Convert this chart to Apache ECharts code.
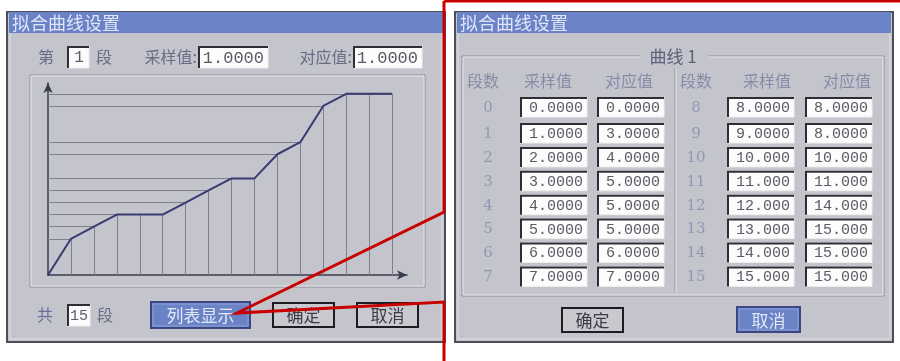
<!DOCTYPE html>
<html><head><meta charset="utf-8">
<script src="https://cdn.jsdelivr.net/npm/echarts@6/dist/echarts.min.js"></script>
<style>html,body{margin:0;padding:0;background:#fff;}#c{width:900px;height:361px;}</style>
</head><body><div id="c"></div>
<script>
// ---- data ----
const segmentNumbers = [0,1,2,3,4,5,6,7,8,9,10,11,12,13,14,15];
const sampleValues   = [0,1,2,3,4,5,6,7,8,9,10,11,12,13,14,15];
const responseValues = [0,3,4,5,5,5,6,7,8,8,10,11,14,15,15,15];
const dialogTitle = '拟合曲线设置';
const curveName = '曲线 1';
const tableHeaders = ['段数','采样值','对应值'];
const currentSegment = 1;
const currentSample = 1.0;
const currentResponse = 1.0;
const totalSegments = 15;

function fmt(v){ return Number(v).toPrecision(5); }

// ---- UI helpers ----
const G = [];
const CJK = '"Noto Sans CJK SC"';
function rect(x,y,w,h,fill,stroke,lw,z){ G.push({type:'rect',silent:true,z:z||1,shape:{x:x,y:y,width:w,height:h},style:{fill:fill||'none',stroke:stroke||'none',lineWidth:lw||0}}); }
function pl(pts,stroke,lw,z){ G.push({type:'polyline',silent:true,z:z||2,shape:{points:pts},style:{stroke:stroke,lineWidth:lw,fill:'none'}}); }
function txt(s,x,y,o){ G.push({type:'text',silent:true,z:4,x:x,y:y,style:Object.assign({text:s,fill:'#686c84',font:'16px '+CJK,align:'center',verticalAlign:'middle'},o||{})}); }
function field(x,y,w,h,s,o){
  rect(x,y,w,h,'#fcfcfc');
  pl([[x+w,y+h],[x+w,y],[x+w,y]],'#eeeef2',1);
  pl([[x,y+h],[x+w,y+h]],'#eeeef2',1);
  pl([[x+1,y+h],[x+1,y+1],[x+w,y+1]],'#2e2e34',2);
  if(s!==undefined){ txt(s,x+w-4,y+h/2+1,Object.assign({align:'right',fill:'#5a5a64',font:'15px "Liberation Mono"'},o||{})); }
}
function button(x,y,w,h,label,blue){
  rect(x,y,w,h,blue?'#6a82c6':'#c9cad0',blue?'#3c4680':'#1c1c22',2);
  if(blue) rect(x+2,y+2,w-4,h-4,'none','#8ea0d8',1);
  txt(label,x+w/2,y+h/2+1,{fill:blue?'#e2e8f8':'#3c3c46',font:'17px '+CJK});
}
function panel(x,y,w,h){
  rect(x,y,w,h,'#c4c5cc','#4e4e56',2);
  rect(x+3,y+3,w-6,h-6,'none','#e0e0e6',1);
  rect(x+2,y,w-4,21,'#6a82c6');
  txt(dialogTitle,x+5,y+11,{align:'left',fill:'#dfe5f6',font:'18px '+CJK});
}
function etched(x,y,w,h){
  rect(x,y,w,h,'none','#8c8c96',1);
  rect(x+1,y+1,w-2,h-2,'none','#e6e6ec',1);
}

// ---- left dialog ----
panel(7,12,438,330);
txt('第',46,57);
field(67,46,22,22,String(currentSegment),{align:'center',font:'16px "Liberation Mono"'});
G[G.length-1].x = 79;
txt('段',104,57);
txt('采样值:',197,57,{align:'right'});
field(198,46,70,22,fmt(currentSample),{font:'17px "Liberation Mono"'});
txt('对应值:',352,57,{align:'right'});
field(353,46,69,22,fmt(currentResponse),{font:'17px "Liberation Mono"'});
etched(30,75,395,212);
txt('共',45,315,{fill:'#6c6c9c'});
field(67,304,23,22,String(totalSegments),{align:'center',font:'15px "Liberation Mono"'});
G[G.length-1].x = 79;
txt('段',105,315);
button(151,302,99,26,'列表显示',true);
button(273,303,61,24,'确定',false);
button(357,303,61,24,'取消',false);

// ---- right dialog ----
panel(455,12,438,330);
etched(462,56,422,240);
rect(640,48,68,18,'#c4c5cc',null,0,3);
txt(curveName,673,57,{fill:'#5c6078',font:'17px '+CJK});
pl([[675,68],[675,292]],'#8c8c96',1);
pl([[676,68],[676,292]],'#e6e6ec',1);
const halfX = [{idx:488,hdr:[483,548,629],a:520,b:597},{idx:696,hdr:[696,767,847],a:727,b:805}];
halfX.forEach(function(h){
  tableHeaders.forEach(function(t,j){ txt(t,h.hdr[j],81,{fill:'#878ca6'}); });
});
function rowY(i){ return i===0 ? 107 : 133 + (i-1)*23.9; }
segmentNumbers.forEach(function(n,k){
  const h = halfX[k<8?0:1];
  const r = k%8;
  const cy = rowY(r);
  txt(String(n),h.idx,cy+1,{fill:'#9298b2',font:'15px "DejaVu Serif"'});
  field(h.a,cy-10,67,20,fmt(sampleValues[k]));
  field(h.b,cy-10,67,20,fmt(responseValues[k]));
});
button(562,308,61,24,'确定',false);
button(737,307,63,25,'取消',true);

// ---- red callout ----
G.push({type:'polyline',silent:true,z:50,shape:{points:[[444,1],[900,1]]},style:{stroke:'#c80000',lineWidth:3,fill:'none'}});
G.push({type:'polyline',silent:true,z:50,shape:{points:[[444,1],[444,212],[237,313],[444,302],[444,361]]},style:{stroke:'#c80000',lineWidth:3,fill:'none',lineJoin:'miter'}});

// ---- chart ----
const points = sampleValues.map(function(x,i){ return [x,responseValues[i]]; });
const dropLines = [];
points.forEach(function(p){
  dropLines.push({coords:[[p[0],0],[p[0],p[1]]]});
  dropLines.push({coords:[[0,p[1]],[p[0],p[1]]]});
});

const chart = echarts.init(document.getElementById('c'),null,{renderer:'canvas'});
chart.setOption({
  animation:false,
  backgroundColor:'#ffffff',
  graphic:{elements:G},
  grid:{left:48,top:83,right:493,bottom:86,containLabel:false},
  xAxis:{type:'value',min:0,max:15.65,z:5,
    axisLine:{show:true,symbol:['none','arrow'],symbolSize:[7,10],lineStyle:{color:'#3a3a4e',width:1.5}},
    axisTick:{show:false},axisLabel:{show:false},splitLine:{show:false}},
  yAxis:{type:'value',min:0,max:15.9,z:5,
    axisLine:{show:true,symbol:['none','arrow'],symbolSize:[7,10],lineStyle:{color:'#3a3a4e',width:1.5}},
    axisTick:{show:false},axisLabel:{show:false},splitLine:{show:false}},
  series:[
    {type:'lines',coordinateSystem:'cartesian2d',z:6,silent:true,
     lineStyle:{color:'#80808c',width:1,opacity:1},data:dropLines},
    {type:'line',z:7,silent:true,showSymbol:false,data:points,
     lineStyle:{color:'#3a3a72',width:2}}
  ]
});
</script></body></html>
